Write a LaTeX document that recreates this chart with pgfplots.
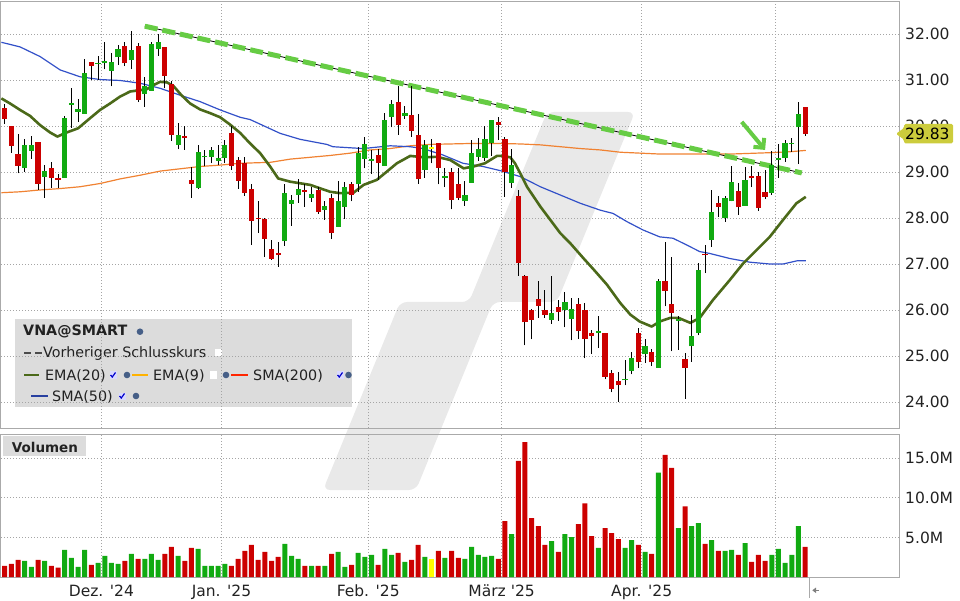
\documentclass[border=0pt]{standalone}
\usepackage{fontspec}
\setmainfont{DejaVu Sans}
\usepackage{pgfplots}
\usepackage{pgfplotstable}
\pgfplotsset{compat=1.18}
\usetikzlibrary{arrows.meta}

\definecolor{cred}{RGB}{204,0,0}
\definecolor{cgreen}{RGB}{17,170,17}
\definecolor{cyellow}{RGB}{255,255,0}
\definecolor{ema}{RGB}{75,105,25}
\definecolor{smafifty}{RGB}{50,80,200}
\definecolor{smatwo}{RGB}{240,130,50}
\definecolor{trend}{RGB}{102,204,68}
\definecolor{wm}{RGB}{233,233,233}
\definecolor{gridc}{RGB}{165,165,165}
\definecolor{framec}{RGB}{170,170,170}
\definecolor{legbg}{RGB}{220,220,220}
\definecolor{lbl}{RGB}{204,204,60}
\definecolor{txt}{RGB}{34,34,34}
\definecolor{globe}{RGB}{70,95,135}

\newcommand{\tickfont}{\fontsize{15.5}{18}\selectfont}
\newcommand{\legfont}{\fontsize{14.3}{17}\selectfont}

% i open high low close volume(M)
\pgfplotstableread{
i o h l c v
0 30.39 30.48 30.04 30.16 1.42
1 29.99 30.00 29.42 29.57 1.67
2 29.39 29.83 28.97 29.14 2.17
3 29.09 29.71 29.00 29.59 2.04
4 29.46 29.78 29.29 29.59 1.29
5 29.65 29.65 28.61 28.75 2.17
6 28.90 29.15 28.44 29.02 2.04
7 29.08 29.21 28.66 28.88 1.42
8 28.88 28.96 28.66 28.83 1.17
9 28.88 30.21 28.88 30.17 3.42
10 30.46 30.83 29.96 30.49 2.42
11 30.31 30.59 30.09 30.36 1.29
12 30.27 31.45 30.27 31.15 3.42
13 31.39 31.39 30.99 31.31 1.54
14 31.35 31.52 31.01 31.38 1.79
15 31.36 31.83 31.23 31.41 2.67
16 31.20 31.59 30.86 31.39 1.79
17 31.49 31.76 31.33 31.67 1.67
18 31.75 31.83 31.30 31.36 2.04
19 31.43 32.07 31.23 31.65 2.92
20 31.74 31.80 30.52 30.57 2.29
21 30.70 31.06 30.42 30.86 2.29
22 30.77 31.83 30.77 31.79 2.92
23 31.67 32.01 31.53 31.83 2.17
24 31.72 31.72 30.82 31.09 2.92
25 30.91 30.97 29.67 29.81 3.79
26 29.59 30.06 29.49 29.80 2.67
27 29.78 30.01 29.48 29.73 2.04
28 28.83 29.10 28.44 28.75 3.67
29 28.66 29.58 28.62 29.43 3.54
30 29.32 29.48 29.12 29.35 1.42
31 29.33 29.55 29.19 29.48 1.42
32 29.25 29.59 29.16 29.30 1.42
33 29.30 29.70 29.19 29.59 1.67
34 29.84 30.00 29.04 29.13 1.42
35 29.26 29.33 28.64 28.81 2.29
36 29.20 29.32 28.48 28.55 3.29
37 28.63 28.74 27.41 27.94 4.04
38 28.01 28.37 27.67 27.99 2.17
39 27.98 28.00 27.15 27.55 3.17
40 27.33 27.52 27.09 27.11 2.04
41 27.25 27.47 26.94 27.20 2.54
42 27.49 28.74 27.40 28.55 4.17
43 28.31 28.49 27.83 28.39 2.67
44 28.51 28.85 28.33 28.62 2.29
45 28.61 28.73 28.25 28.57 1.42
46 28.44 28.67 28.35 28.52 1.42
47 28.61 28.67 28.09 28.14 1.42
48 28.17 28.36 27.96 28.27 1.42
49 28.43 28.52 27.54 27.68 2.92
50 27.81 28.80 27.81 28.36 3.17
51 28.25 28.78 27.98 28.67 1.29
52 28.74 28.79 28.36 28.51 1.54
53 28.73 29.55 28.57 29.41 3.04
54 29.29 29.77 29.08 29.61 2.54
55 29.24 29.48 28.96 29.28 2.79
56 29.36 29.51 28.83 29.20 1.54
57 29.14 30.28 29.14 30.14 3.54
58 30.20 30.57 29.97 30.48 2.79
59 30.52 30.86 29.81 30.03 3.04
60 30.22 30.43 30.15 30.28 1.92
61 30.24 30.88 29.77 29.90 2.17
62 29.80 30.26 28.74 28.84 4.04
63 29.04 29.70 28.88 29.59 2.54
64 29.53 29.72 29.19 29.53 2.29
65 29.62 29.62 28.73 29.09 3.29
66 28.86 29.08 28.67 28.91 2.42
67 28.99 29.08 28.19 28.39 3.29
68 28.75 29.08 28.39 28.44 2.42
69 28.36 28.80 28.27 28.50 2.29
70 28.77 29.70 28.77 29.41 3.79
71 29.33 29.74 29.25 29.50 2.79
72 29.30 30.00 29.25 29.71 2.54
73 29.62 30.13 29.35 30.12 2.67
74 30.08 30.19 29.70 30.03 2.29
75 29.71 29.77 28.46 28.99 7.04
76 28.77 29.50 28.66 29.15 5.42
77 28.48 28.61 26.74 27.03 14.67
78 26.75 26.76 25.23 25.73 17.04
79 25.99 26.02 25.36 25.79 7.42
80 26.25 26.64 25.83 26.09 6.42
81 26.00 26.43 25.83 25.90 4.04
82 25.79 26.73 25.70 25.93 4.54
83 26.07 26.22 25.77 25.96 3.17
84 25.99 26.40 25.62 26.17 5.42
85 25.81 26.26 25.34 26.02 5.04
86 26.12 26.26 25.37 25.54 6.67
87 26.01 26.15 24.95 25.38 9.29
88 25.49 25.57 25.04 25.44 5.17
89 25.49 25.88 25.17 25.54 3.67
90 25.49 25.50 24.49 24.55 6.17
91 24.64 24.70 24.21 24.28 5.54
92 24.46 24.66 24.01 24.36 4.79
93 24.47 24.92 24.36 24.51 3.67
94 24.67 25.09 24.60 24.96 4.67
95 25.49 25.61 24.74 24.88 4.04
96 25.04 25.36 24.85 25.22 3.17
97 25.09 25.16 24.78 24.86 2.92
98 24.74 26.67 24.74 26.64 13.17
99 26.62 27.47 26.08 26.42 15.42
100 26.12 27.16 25.10 25.93 13.79
101 25.77 25.88 25.14 25.81 6.17
102 24.94 25.07 24.07 24.75 8.92
103 25.21 25.90 24.88 25.44 6.42
104 25.50 27.02 25.45 26.88 6.79
105 27.22 27.41 26.80 27.19 4.17
106 27.52 28.61 27.38 28.13 4.67
107 28.33 28.48 28.03 28.25 3.29
108 27.99 28.48 27.92 28.43 3.29
109 28.36 29.14 28.36 28.78 3.42
110 28.59 28.77 28.07 28.23 2.79
111 28.27 29.10 28.27 28.83 4.29
112 28.91 29.12 28.67 28.88 1.92
113 28.91 28.99 28.16 28.22 2.79
114 28.56 29.04 28.41 28.46 2.04
115 28.55 29.46 28.50 29.15 2.79
116 29.26 29.61 28.88 29.30 3.54
117 29.31 29.70 29.22 29.64 1.79
118 29.60 29.75 29.44 29.64 2.79
119 29.97 30.53 29.17 30.26 6.42
120 30.42 30.42 29.79 29.83 3.79
}\candles

\pgfplotstableread{
i v
-0.5 30.60
0.8 30.49
2.3 30.35
3.8 30.22
5.3 30.02
6.8 29.86
7.9 29.77
9.3 29.86
11.0 29.95
12.8 30.17
14.3 30.35
15.8 30.49
17.3 30.64
18.8 30.75
20.3 30.78
21.3 30.80
22.3 30.89
23.3 30.96
24.3 30.95
25.3 30.87
26.5 30.67
27.8 30.49
29.3 30.36
30.8 30.28
32.3 30.19
33.8 30.03
35.3 29.85
36.8 29.62
38.3 29.41
39.8 29.12
41.0 28.86
42.8 28.79
45.8 28.72
48.8 28.57
50.3 28.54
52.3 28.55
53.8 28.72
55.8 28.83
57.3 29.01
58.8 29.19
60.8 29.35
62.8 29.32
64.8 29.33
66.8 29.26
68.8 29.08
70.3 29.12
72.0 29.19
73.8 29.35
74.5 29.35
75.8 29.32
76.5 29.19
77.3 28.97
78.3 28.68
80.3 28.25
83.3 27.67
84.8 27.45
86.8 27.12
88.3 26.88
90.3 26.55
92.3 26.15
93.8 25.90
95.2 25.75
97.0 25.64
98.2 25.75
99.8 25.83
101.0 25.83
102.8 25.72
104.2 25.83
106.2 26.22
108.7 26.65
110.7 27.01
112.7 27.30
114.7 27.59
116.7 27.96
118.7 28.32
120.1 28.46
}\emaTwenty

\pgfplotstableread{
i v
-0.5 31.82
2.3 31.72
5.3 31.51
8.3 31.22
11.3 31.07
14.3 31.01
17.3 30.99
20.3 30.93
23.3 30.82
26.3 30.67
29.3 30.53
32.3 30.35
35.3 30.19
36.8 30.14
41.3 29.84
44.3 29.71
48.3 29.60
49.2 29.55
53.7 29.51
57.8 29.57
60.8 29.55
62.7 29.51
65.7 29.37
68.7 29.19
71.7 29.12
74.3 29.03
77.3 28.90
80.3 28.68
83.3 28.50
86.3 28.32
89.3 28.17
91.2 28.10
93.3 27.92
95.7 27.74
98.2 27.59
100.2 27.56
102.3 27.41
104.2 27.27
105.7 27.23
108.7 27.12
111.7 27.04
114.7 27.00
116.7 27.00
118.8 27.07
120.1 27.07
}\smaFifty

\pgfplotstableread{
i v
-0.5 28.55
2.3 28.57
5.3 28.61
8.3 28.64
11.3 28.68
14.3 28.75
17.3 28.85
20.3 28.93
23.3 29.02
26.3 29.07
29.3 29.12
32.3 29.15
35.3 29.19
39.8 29.21
42.8 29.28
45.8 29.32
48.8 29.36
51.8 29.41
54.8 29.48
57.8 29.51
60.8 29.57
63.8 29.60
66.8 29.61
69.8 29.62
74.3 29.62
77.3 29.61
80.3 29.59
83.3 29.55
86.3 29.51
89.3 29.48
92.3 29.43
95.3 29.41
98.3 29.39
104.2 29.39
108.7 29.39
114.7 29.42
117.7 29.44
120.1 29.47
}\smaTwoHundred

\pgfplotsset{
  panel/.style={
    scale only axis, width=898pt,
    xmin=-0.555, xmax=134.08,
    axis line style={draw=framec, line width=1pt},
    grid=major,
    major grid style={draw=gridc, line width=0.8pt, dash pattern=on 1pt off 2pt},
    xtick={14.5,32.5,54.5,74.5,95.5,115.5},
    major tick length=0pt,
    ytick pos=right, yticklabel pos=right,
    yticklabel style={anchor=west, inner sep=0pt, xshift=6pt, font=\tickfont, text=txt},
  },
  wick/.style={draw=none, mark=none, forget plot,
    error bars/.cd, y dir=plus, y explicit, error mark=none,
    error bar style={draw=black, line width=1pt}},
  body/.style={draw=none, mark=none, forget plot,
    error bars/.cd, y dir=plus, y explicit, error mark=none,
    error bar style={draw=#1, line width=5.2pt}},
  vbar/.style={ybar, bar width=5pt, bar shift=0pt, fill=#1, draw=none, forget plot},
}

\begin{document}
\begin{tikzpicture}
\begin{scope}[x=1pt,y=1pt]
\useasboundingbox (0,0) rectangle (960,600);
% watermark
\fill[wm, rounded corners=7pt] (547,488) -- (635,488) -- (557,298) -- (493,298)
  -- (416,110) -- (323,110) -- (400,298) -- (469,298) -- cycle;
% legend box
\fill[legbg] (15,193) rectangle (352,281);
\node[anchor=base west, inner sep=0, font=\legfont\bfseries, text=txt] at (23,264) {VNA@SMART};
\fill[globe] (140,268.3) circle (3.3);
\draw[black!70, line width=2pt] (24,247.3) -- (31,247.3) (35,247.3) -- (42,247.3);
\node[anchor=base west, inner sep=0, font=\legfont, text=txt] at (43,242.7) {Vorheriger Schlusskurs};
\fill[white] (214.5,243.8) rectangle (221.5,250.8);
% line 3
\draw[ema, line width=2pt] (24,225) -- (39,225);
\node[anchor=base west, inner sep=0, font=\legfont, text=txt] at (45,220) {EMA(20)};
\fill[white!85!blue] (109.5,221.5) rectangle (116.5,228.5);
\draw[blue!80!black, line width=1.2pt] (110.5,225) -- (112.3,223) -- (115.5,227.5);
\fill[globe] (127,225) circle (3.3);
\draw[orange!60!yellow, line width=2pt] (132,225) -- (148,225);
\node[anchor=base west, inner sep=0, font=\legfont, text=txt] at (153,220) {EMA(9)};
\fill[white] (209.5,221.5) rectangle (216.5,228.5);
\fill[globe] (226,225) circle (3.3);
\draw[red!70!orange, line width=2pt] (231,225) -- (248,225);
\node[anchor=base west, inner sep=0, font=\legfont, text=txt] at (253,220) {SMA(200)};
\fill[white!85!blue] (336.5,221.5) rectangle (343.5,228.5);
\draw[blue!80!black, line width=1.2pt] (337.5,225) -- (339.3,223) -- (342.5,227.5);
\fill[globe] (348.5,225) circle (3.3);
% line 4
\draw[smafifty!80!black, line width=2pt] (31,204) -- (48,204);
\node[anchor=base west, inner sep=0, font=\legfont, text=txt] at (52,199) {SMA(50)};
\fill[white!85!blue] (118.5,200.5) rectangle (125.5,207.5);
\draw[blue!80!black, line width=1.2pt] (119.5,204) -- (121.3,202) -- (124.5,206.5);
\fill[globe] (136,204) circle (3.3);
% Volumen label
\fill[legbg] (3,144) rectangle (86,164);
\node[anchor=base west, inner sep=0, font=\fontsize{13.5}{16}\selectfont\bfseries, text=txt] at (11.7,148) {Volumen};
\end{scope}

% price panel
\begin{axis}[panel, at={(1pt,172pt)}, anchor=south west, height=426pt,
  ymin=23.435, ymax=32.696,
  ytick={24,25,...,32},
  yticklabels={24.00,25.00,26.00,27.00,28.00,29.00,30.00,31.00,32.00},
  xticklabels={,,,,,}]
\addplot[smatwo, line width=1.2pt] table[x=i, y=v] {\smaTwoHundred};
\addplot[smafifty, line width=1.2pt] table[x=i, y=v] {\smaFifty};
\addplot[ema, line width=2.6pt, line join=round] table[x=i, y=v] {\emaTwenty};
\addplot[black, line width=0.8pt] coordinates {(21,32.17) (119.5,28.98)};
\addplot[trend, line width=5pt, dash pattern=on 13pt off 5pt] coordinates {(21,32.17) (119.5,28.98)};
\addplot[wick] table[x=i, y=l, y error expr={\thisrow{h}-\thisrow{l}}] {\candles};
\addplot[body=cred] table[x expr={\thisrow{c}<\thisrow{o} ? \thisrow{i} : nan}, y=c,
  y error expr={\thisrow{o}-\thisrow{c}}] {\candles};
\addplot[body=cgreen] table[x expr={\thisrow{c}>\thisrow{o} ? \thisrow{i} : nan}, y=o,
  y error expr={\thisrow{c}-\thisrow{o}}] {\candles};
\addplot[body=cyellow] table[x expr={\thisrow{c}==\thisrow{o} ? \thisrow{i} : nan},
  y expr={\thisrow{c}-0.02}, y error expr=0.04] {\candles};
\draw[trend, line width=4pt, -{Straight Barb[length=7pt,width=14pt]}] (110.5,30.09) -- (114.0,29.48);
\end{axis}

% volume panel
\begin{axis}[panel, at={(1pt,23pt)}, anchor=south west, height=143pt,
  ymin=0, ymax=18.05,
  ytick={5,10,15}, yticklabels={5.0M,10.0M,15.0M},
  xticklabels={Dez. \textquotesingle24, Jan. \textquotesingle25, Feb. \textquotesingle25, März \textquotesingle25, Apr. \textquotesingle25, {}},
  xticklabel style={anchor=base, inner sep=0pt, yshift=-19.7pt, font=\tickfont, text=txt}]
\addplot[vbar=cred] table[x=i, y expr={\thisrow{c}<\thisrow{o} ? \thisrow{v} : nan}] {\candles};
\addplot[vbar=cgreen] table[x=i, y expr={\thisrow{c}>\thisrow{o} ? \thisrow{v} : nan}] {\candles};
\addplot[vbar=cyellow] table[x=i, y expr={\thisrow{c}==\thisrow{o} ? \thisrow{v} : nan}] {\candles};
\end{axis}

\begin{scope}[x=1pt,y=1pt]
% last price label
\fill[lbl, rounded corners=1.5pt] (896,466.2) -- (904,472) -- (904,476) -- (953,476)
  -- (953,456.7) -- (904,456.7) -- (904,460.4) -- cycle;
\node[anchor=west, inner sep=0, font=\tickfont, text=black] at (905,466.2) {29.83};
% bottom right marker
\draw[framec, line width=1pt] (809,23) -- (809,2);
\fill[gray] (812.3,9.7) -- (816,12.5) -- (816,6.9) -- cycle;
\draw[gray, line width=1.2pt] (815,9.7) -- (818.5,9.7);
\end{scope}
\end{tikzpicture}
\end{document}
